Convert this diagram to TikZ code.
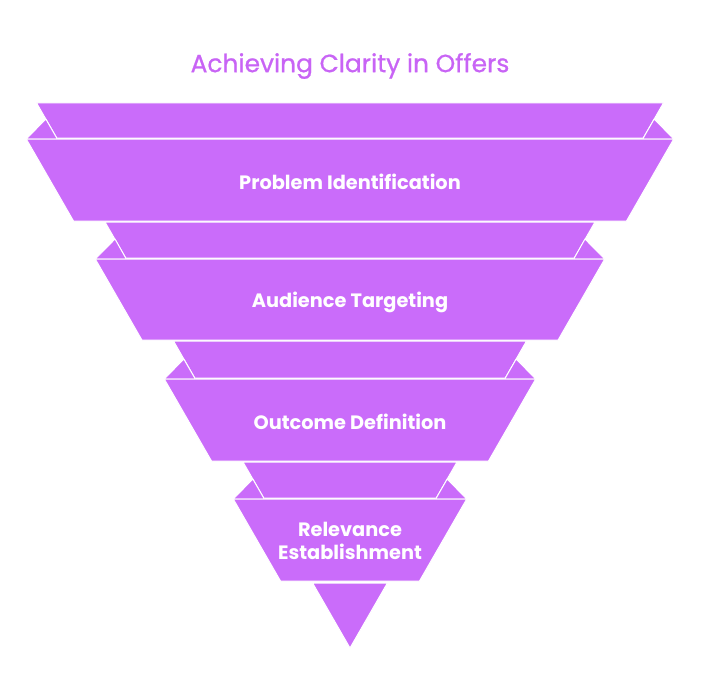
\documentclass[tikz,border=0pt]{standalone}
\usepackage{fontspec}
\setmainfont{Poppins}
\newfontfamily\titlefont{Poppins}[FakeBold=0.8]
\usetikzlibrary{positioning}
\definecolor{clarityPurple}{RGB}{202, 108, 250}
\definecolor{clarityTitle}{RGB}{200, 100, 245}

\begin{document}
\begin{tikzpicture}[
  x=1bp,y=-1bp,
  band/.style={fill=clarityPurple,draw=white,line width=1bp,line join=round},
  label/.style={text=white,font=\fontsize{19.4}{23}\selectfont\bfseries,align=center}
]
  \useasboundingbox (0,0) rectangle (701,699);
  \node[text=clarityTitle,font=\titlefont\fontsize{25}{30}\selectfont] (title) at (350,66) {Achieving Clarity in Offers};

  % back strips
  \draw[band] (36.6,103) -- (663.4,103) -- (643.3,138) -- (56.7,138) -- cycle;
  \draw[band] (105,222) -- (595,222) -- (574.3,258) -- (125.7,258) -- cycle;
  \draw[band] (173.5,341) -- (526.5,341) -- (505.3,378) -- (194.7,378) -- cycle;
  \draw[band] (243,462) -- (457,462) -- (436.3,498) -- (263.7,498) -- cycle;

  % folds
  \draw[band] (26.3,139) -- (45.8,119) -- (57.3,139) -- cycle;
  \draw[band] (673.7,139) -- (654.2,119) -- (642.7,139) -- cycle;
  \draw[band] (95.3,259) -- (115,239) -- (126.3,259) -- cycle;
  \draw[band] (604.7,259) -- (585,239) -- (573.7,259) -- cycle;
  \draw[band] (164.3,379) -- (183.8,359) -- (195.3,379) -- cycle;
  \draw[band] (535.7,379) -- (516.2,359) -- (504.7,379) -- cycle;
  \draw[band] (233.3,499) -- (252.8,479) -- (264.3,499) -- cycle;
  \draw[band] (466.7,499) -- (447.2,479) -- (435.7,499) -- cycle;

  % front bands
  \draw[band] (26.3,139) -- (673.7,139) -- (626.5,221) -- (73.5,221) -- cycle;
  \draw[band] (95.3,259) -- (604.7,259) -- (558.1,340) -- (141.9,340) -- cycle;
  \draw[band] (164.3,379) -- (535.7,379) -- (488.5,461) -- (211.5,461) -- cycle;
  \draw[band] (233.3,499) -- (466.7,499) -- (419.5,581) -- (280.5,581) -- cycle;

  % tip
  \draw[band] (312.6,583) -- (387.4,583) -- (350,648) -- cycle;

  \node[label] (problem) at (350,182) {Problem Identification};
  \node[label] (audience) at (350,302) {Audience Targeting};
  \node[label] (outcome) at (350,422) {Outcome Definition};
  \node[label] (relevance) at (350,541) {Relevance\\Establishment};
\end{tikzpicture}
\end{document}
